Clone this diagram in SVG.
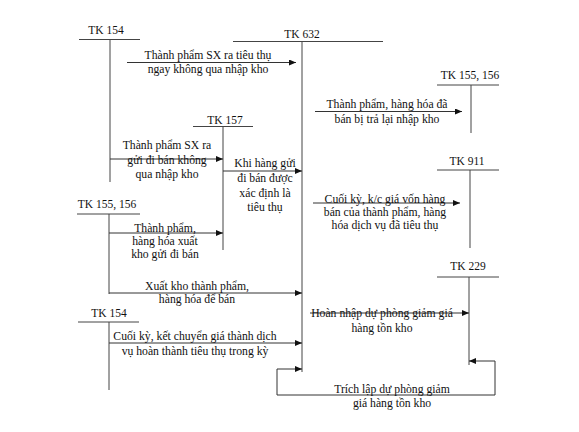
<svg xmlns="http://www.w3.org/2000/svg" width="579" height="432" viewBox="0 0 579 432">
<style>
text{font-family:"Liberation Serif","Times New Roman",serif;font-size:11.7px;fill:#111;text-anchor:middle}
.tk text{font-size:11.5px}
.ln{stroke:#444;stroke-width:1;fill:none}
.ar{stroke:#333;stroke-width:1;fill:none;marker-end:url(#ah)}
</style>
<defs>
<marker id="ah" markerUnits="userSpaceOnUse" markerWidth="8" markerHeight="6" refX="7" refY="3" orient="auto">
<path d="M0,0 L7,3 L0,6 Z" fill="#111"/>
</marker>
</defs>
<rect width="579" height="432" fill="#fff"/>
<g id="tk154a" class="tk"><text x="106" y="34">TK 154</text><path class="ln" d="M79,39.5H140M110,39.5V182"/></g>
<g id="tk632" class="tk"><text x="302" y="38">TK 632</text><path class="ln" d="M233,41.5H383M302,41.5V372"/></g>
<g id="tk155r" class="tk"><text x="470" y="79">TK 155, 156</text><path class="ln" d="M437,85H499M471,85V133"/></g>
<g id="tk157" class="tk"><text x="225" y="124">TK 157</text><path class="ln" d="M193,126.5H253M223,126.5V250"/></g>
<g id="tk911" class="tk"><text x="467" y="165">TK 911</text><path class="ln" d="M437,170H499M470,170V248"/></g>
<g id="tk155l" class="tk"><text x="107" y="208">TK 155, 156</text><path class="ln" d="M77,214H140M109,214V294"/></g>
<g id="tk229" class="tk"><text x="468" y="270">TK 229</text><path class="ln" d="M437,277H499M469,277V365"/></g>
<g id="tk154b" class="tk"><text x="109" y="317">TK 154</text><path class="ln" d="M78,322H139M109,322V390"/></g>
<g id="connectors">
<path class="ar" d="M127,62.5H296"/>
<path class="ar" d="M315,111.5H462"/>
<path class="ar" d="M110,159H223"/>
<path class="ar" d="M223,171H302"/>
<path class="ar" d="M313,203H460"/>
<path class="ar" d="M109,233H223"/>
<path class="ar" d="M109,293H302"/>
<path class="ar" d="M310,313H469"/>
<path class="ar" d="M109,343H302"/>
<path class="ar" d="M495,395V361H469"/>
<path class="ar" d="M495,395H277V369H302"/>
</g>
<g id="labels">
<text x="208" y="59">Thành phẩm SX ra tiêu thụ</text>
<text x="208" y="72.5">ngay không qua nhập kho</text>
<text x="387" y="108">Thành phẩm, hàng hóa đã</text>
<text x="387" y="123">bán bị trả lại nhập kho</text>
<text x="167" y="149">Thành phẩm SX ra</text>
<text x="167" y="164">gửi đi bán không</text>
<text x="167" y="178">qua nhập kho</text>
<text x="265" y="167">Khi hàng gửi</text>
<text x="265" y="182">đi bán được</text>
<text x="265" y="196.5">xác định là</text>
<text x="265" y="211">tiêu thụ</text>
<text x="385" y="202.5">Cuối kỳ, k/c giá vốn hàng</text>
<text x="385" y="215.5">bán của thành phẩm, hàng</text>
<text x="385" y="228.5">hóa dịch vụ đã tiêu thụ</text>
<text x="165" y="232">Thành phẩm,</text>
<text x="165" y="245">hàng hóa xuất</text>
<text x="165" y="258">kho gửi đi bán</text>
<text x="197" y="290">Xuất kho thành phẩm,</text>
<text x="197" y="303">hàng hóa để bán</text>
<text x="195" y="340">Cuối kỳ, kết chuyển giá thành dịch</text>
<text x="195" y="355">vụ hoàn thành tiêu thụ trong kỳ</text>
<text x="382" y="317">Hoàn nhập dự phòng giảm giá</text>
<text x="382" y="332">hàng tồn kho</text>
<text x="392" y="393">Trích lập dự phòng giảm</text>
<text x="392" y="407">giá hàng tồn kho</text>
</g>
</svg>
